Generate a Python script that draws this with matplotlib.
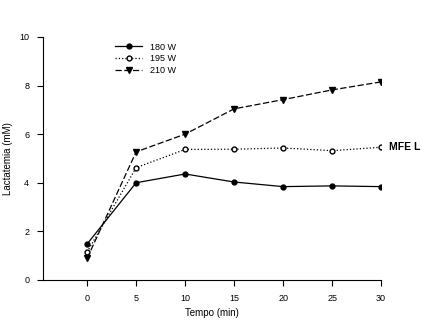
import numpy as np
import matplotlib.pyplot as plt

plt.rcParams['font.family'] = ['Liberation Sans', 'DejaVu Sans']

tempo = [0, 5, 10, 15, 20, 25, 30]
w180 = [1.48, 4.0, 4.36, 4.03, 3.84, 3.87, 3.84]
w195 = [1.15, 4.62, 5.37, 5.38, 5.43, 5.32, 5.46]
w210 = [0.89, 5.27, 6.0, 7.04, 7.42, 7.82, 8.15]

fig = plt.figure(figsize=(4.22, 3.24), dpi=100)
ax = fig.add_axes([0.102, 0.136, 0.801, 0.75])

ax.plot(tempo, w180, '-', color='black', lw=0.9, marker='o', ms=3.5, label='180 W')
ax.plot(tempo, w195, ':', color='black', lw=0.9, marker='o', ms=3.5, mfc='white', label='195 W')
ax.plot(tempo, w210, '--', color='black', lw=0.9, marker='v', ms=4.5, label='210 W', dashes=(5, 2))

ax.set_xlim(-4.5, 30)
ax.set_ylim(0, 10)
ax.set_xticks(tempo)
ax.set_yticks([0, 2, 4, 6, 8, 10])
ax.spines['top'].set_visible(False)
ax.spines['right'].set_visible(False)
ax.tick_params(direction='out', length=4, width=0.8, labelsize=6.5, pad=6)
ax.set_xlabel('Tempo (min)', fontsize=7)
ax.set_ylabel('Lactatemia (mM)', fontsize=7)
ax.yaxis.set_label_coords(-0.088, 0.5)

ax.text(30.8, 5.46, 'MFE L', fontsize=7.5, fontweight='bold', va='center')

ax.legend(loc='upper left', bbox_to_anchor=(0.19, 1.01), frameon=False, fontsize=6.5,
          handlelength=3, labelspacing=0.3)

fig.savefig('out.png', dpi=100)
